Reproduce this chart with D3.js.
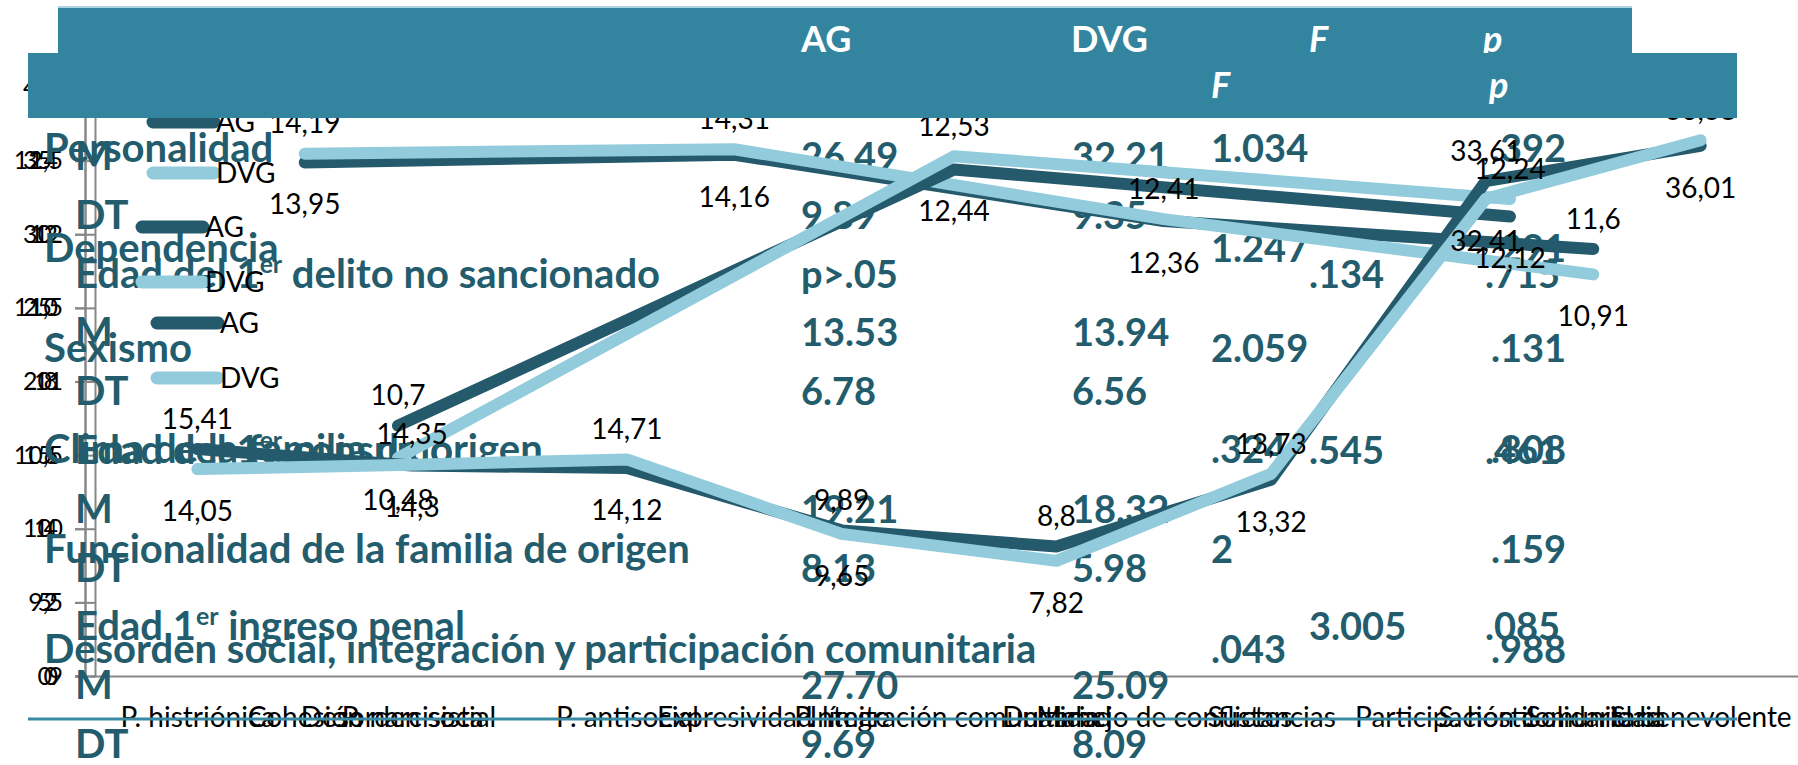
<!DOCTYPE html>
<html>
<head>
<meta charset="utf-8">
<script src="https://cdn.jsdelivr.net/npm/d3@7"></script>
<style>
  body { margin: 0; background: #fff; }
  svg { display: block; }
  text { font-family: Lato, "Open Sans", sans-serif; }
</style>
</head>
<body>
<div id="chart"></div>
<script>
// Three line charts (AG vs DVG) stacked on top of a results table

// Chart I - axis 0..40
const catsI = ["P. histriónica", "P. narcisista", "P. antisocial", "P. límite", "Dualidad", "Sustancias", "S. hostil", "S. benevolente"];
const agI = [15.41, 14.3, 14.12, 9.89, 8.8, 13.32, 33.61, 36.01];
const dvgI = [14.05, 14.35, 14.71, 9.65, 7.82, 13.73, 32.41, 36.38];
const ticksI = [0, 5, 10, 15, 20, 25, 30, 35, 40];

// Chart II - axis 9..13
const catsII = ["Desorden social", "Integración comunitaria", "Participación comunitaria"];
const agII = [10.7, 12.44, 12.12];
const dvgII = [10.48, 12.53, 12.24];
const ticksII = [9, 9.5, 10, 10.5, 11, 11.5, 12, 12.5, 13];

// Chart III - axis 0..16
const catsIII = ["Cohesión", "Expresividad", "Manejo de conflictos", "Solidaridad"];
const agIII = [13.95, 14.16, 12.36, 11.6];
const dvgIII = [14.19, 14.31, 12.41, 10.91];
const ticksIII = [0, 2, 4, 6, 8, 10, 12, 14, 16];

const seriesNames = ["AG", "DVG"];

// Table, first layer
const groupsA = ["Personalidad", "Dependencia", "Sexismo", "Clima de la familia de origen",
  "Funcionalidad de la familia de origen", "Desorden social, integración y participación comunitaria"];
const fA = ["1.034", "1.247", "2.059", ".324", "2", ".043"];
const pA = [".392", ".291", ".131", ".808", ".159", ".988"];

// Table, second layer
const rowsB = ["M", "DT", "Edad del 1er delito no sancionado", "M", "DT", "Edad del 1er consumo",
  "M", "DT", "Edad 1er ingreso penal", "M", "DT"];
const agB = ["26.49", "9.89", "p>.05", "13.53", "6.78", "", "19.21", "8.13", "", "27.70", "9.69"];
const dvgB = ["32.21", "9.35", "", "13.94", "6.56", "", "18.32", "5.98", "", "25.09", "8.09"];
const fB = ["", "", ".134", "", "", ".545", "", "", "3.005", "", ""];
const pB = ["", "", ".715", "", "", ".461", "", "", ".085", "", ""];

const headTop = ["AG", "DVG", "F", "p"];
const headSecond = ["F", "p"];

const W = 1798, H = 765;
const colors = {AG: "#245a6b", DVG: "#92cbdc"};
const teal = "#235d6d";
const comma = d => String(d).replace(".", ",");

const svg = d3.select("#chart").append("svg").attr("width", W).attr("height", H);

const axisLayer = svg.append("g");
const tableLayer = svg.append("g");
const lineLayer = svg.append("g");
const labelLayer = svg.append("g");
const legendLayer = svg.append("g");
const headLayer = svg.append("g");

// every chart has its own plot width, the height is shared
const plotY = [676, 87];

// write a text, putting "er" after "1" as superscript
function richText(sel, str) {
  let parts = str.split("1er");
  if (parts.length === 1) { sel.text(str); return; }
  sel.append("tspan").text(parts[0] + "1");
  sel.append("tspan").attr("font-size", "0.62em").attr("dy", -15).text("er");
  sel.append("tspan").attr("dy", 15).text(parts[1]);
}

// table body texts
let rowA = d3.scaleLinear().domain([0, groupsA.length - 1]).range([162, 663]);
let rowB = d3.scaleLinear().domain([0, rowsB.length - 1]).range([170, 758]);

function tableCol(data, x, rowScale, size) {
  tableLayer.append("g").selectAll("text")
    .data(data)
    .join("text")
    .attr("x", x)
    .attr("y", (d, i) => rowScale(i))
    .attr("font-size", size)
    .attr("font-weight", "bold")
    .attr("fill", teal)
    .each(function(d) { richText(d3.select(this), d); });
}
tableCol(rowsB, 75, rowB, 40);
tableCol(groupsA, 44, rowA, 40);
tableCol(agB, 801, rowB, 38);
tableCol(dvgB, 1072, rowB, 38);
tableCol(fA, 1211, rowA, 38);
tableCol(pA, 1491, rowA, 38);
tableCol(fB, 1309, rowB, 38);
tableCol(pB, 1485, rowB, 38);

// one line chart
function drawChart(cfg, showDomain) {
  let x = d3.scalePoint().domain(cfg.cats).range(cfg.plotX).padding(0.5);
  let y = d3.scaleLinear().domain(d3.extent(cfg.ticks)).range(plotY);

  let yAxis = d3.axisLeft(y).tickValues(cfg.ticks).tickSize(10).tickPadding(cfg.pad).tickFormat(comma);
  let ga = axisLayer.append("g").attr("transform", `translate(${cfg.axisX},0)`).call(yAxis);
  ga.selectAll("path, line").attr("stroke", "#878787").attr("stroke-width", 2);
  ga.selectAll("text").attr("font-size", 25).attr("fill", "#000").attr("font-family", "Lato");

  let xAxis = d3.axisBottom(x).tickSize(0).tickPadding(31);
  let gx = axisLayer.append("g").attr("transform", `translate(0,${plotY[0]})`).call(xAxis);
  gx.select(".domain").attr("stroke", "#878787").attr("stroke-width", 2).attr("display", showDomain ? null : "none");
  gx.selectAll("text").attr("font-size", 28).attr("fill", "#000").attr("font-family", "Lato");

  let series = [
    {name: "AG", values: cfg.ag, other: cfg.dvg},
    {name: "DVG", values: cfg.dvg, other: cfg.ag}
  ];
  let line = d3.line().x((d, i) => x(cfg.cats[i])).y(d => y(d));

  for (let s of series) {
    lineLayer.append("path")
      .datum(s.values)
      .attr("fill", "none")
      .attr("stroke", colors[s.name])
      .attr("stroke-width", 12)
      .attr("stroke-linecap", "round")
      .attr("stroke-linejoin", "round")
      .attr("d", line);
  }
  for (let s of series) {
    // label above the higher point, below the lower one
    labelLayer.append("g").selectAll("text")
      .data(s.values)
      .join("text")
      .attr("x", (d, i) => x(cfg.cats[i]))
      .attr("y", (d, i) => y(d) + (d >= s.other[i] ? -30 : 42))
      .attr("dy", "0.35em")
      .attr("text-anchor", "middle")
      .attr("font-size", 28)
      .attr("fill", "#000")
      .text(comma);
  }
}

drawChart({cats: catsIII, ag: agIII, dvg: dvgIII, ticks: ticksIII, plotX: [90, 1808], axisX: 85, pad: 17}, false);
drawChart({cats: catsII, ag: agII, dvg: dvgII, ticks: ticksII, plotX: [120, 1788], axisX: 95, pad: 22}, false);
drawChart({cats: catsI, ag: agI, dvg: dvgI, ticks: ticksI, plotX: [90, 1808], axisX: 85, pad: 23}, true);

// legends of the three charts
const legendPos = [[153, 122, 51], [142, 227, 55], [157, 323, 55]];
for (let [lx, ly, gap] of legendPos) {
  let lg = legendLayer.append("g").attr("transform", `translate(${lx},${ly})`);
  let item = lg.selectAll("g").data(seriesNames).join("g")
    .attr("transform", (d, i) => `translate(0,${i * gap})`);
  item.append("line").attr("x1", 0).attr("x2", 61)
    .attr("stroke", d => colors[d]).attr("stroke-width", 13).attr("stroke-linecap", "round");
  item.append("text").attr("x", 63).attr("dy", "0.35em")
    .attr("font-size", 28).attr("fill", "#000").text(d => d);
}

// bottom border of the table
legendLayer.append("line").attr("x1", 28).attr("x2", 1737).attr("y1", 719).attr("y2", 719)
  .attr("stroke", "#3a8aa3").attr("stroke-width", 3);

// header bars
headLayer.append("rect").attr("x", 58).attr("y", 7).attr("width", 1632 - 58).attr("height", 53 - 7).attr("fill", "#33849e");
headLayer.append("line").attr("x1", 58).attr("x2", 1632).attr("y1", 7).attr("y2", 7).attr("stroke", "#a9d4e0").attr("stroke-width", 2);
headLayer.selectAll("text.top").data(headTop).join("text")
  .attr("class", "top")
  .attr("x", (d, i) => [801, 1071, 1309, 1483][i])
  .attr("y", 52)
  .attr("font-size", 36).attr("font-weight", "bold").attr("fill", "#fff")
  .attr("font-style", d => d.length === 1 ? "italic" : null)
  .text(d => d);
headLayer.append("rect").attr("x", 28).attr("y", 53).attr("width", 1737 - 28).attr("height", 118 - 53).attr("fill", "#33849e");
headLayer.selectAll("text.second").data(headSecond).join("text")
  .attr("class", "second")
  .attr("x", (d, i) => [1211, 1489][i])
  .attr("y", 98)
  .attr("font-size", 36).attr("font-weight", "bold").attr("font-style", "italic").attr("fill", "#fff")
  .text(d => d);
</script>
</body>
</html>
